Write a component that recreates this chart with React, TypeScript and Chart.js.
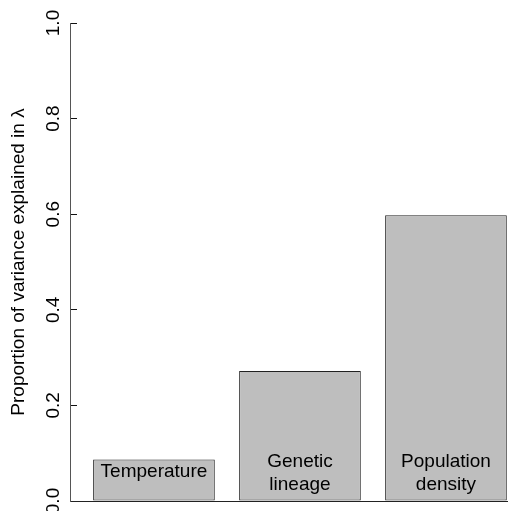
import React, { useEffect, useRef } from "react";
import { Chart, registerables } from "chart.js";

Chart.register(...registerables);

const categories = ["Temperature", "Genetic\nlineage", "Population\ndensity"];
const values = [0.087, 0.272, 0.598];
const labelY = [0.062, 0.058, 0.058];
const yTicks = [0, 0.2, 0.4, 0.6, 0.8, 1.0];
const yTitle = "Proportion of variance explained in λ";

const FONT = "'Liberation Sans', Arial, Helvetica, sans-serif";
const FS = 19;

const barTextPlugin = {
  id: "barText",
  afterDatasetsDraw(chart: any) {
    const { ctx, scales } = chart;
    const xs = scales.x;
    const ys = scales.y;
    ctx.save();
    ctx.fillStyle = "#000";
    ctx.font = `${FS}px ${FONT}`;
    ctx.textAlign = "center";
    ctx.textBaseline = "middle";
    const lh = 23;
    categories.forEach((c, i) => {
      const lines = c.split("\n");
      const cx = xs.getPixelForValue(i);
      const cy = ys.getPixelForValue(labelY[i]);
      lines.forEach((ln, j) => {
        const off = (j - (lines.length - 1) / 2) * lh;
        ctx.fillText(ln, cx, cy + off);
      });
    });
    ctx.restore();
  },
};

export default function App() {
  const ref = useRef<HTMLCanvasElement>(null);
  useEffect(() => {
    if (!ref.current) return;
    const chart = new Chart(ref.current, {
      type: "bar",
      data: {
        datasets: [
          {
            data: categories.map((_, i) => ({ x: i, y: values[i] })),
            backgroundColor: "#bebebe",
            borderColor: "#222",
            borderWidth: 1,
            borderSkipped: false,
            barPercentage: 1 / 1.2,
            categoryPercentage: 1,
          },
        ],
      },
      options: {
        animation: false,
        responsive: false,
        events: [],
        layout: { padding: { top: 23, bottom: 10, left: 0, right: 9 } },
        plugins: { legend: { display: false }, tooltip: { enabled: false } },
        scales: {
          x: {
            type: "linear",
            offset: false,
            min: -0.575,
            max: 2.418,
            afterBuildTicks: (s: any) => {
              s.ticks = categories.map((_, i) => ({ value: i }));
            },
            afterFit: (s: any) => {
              s.height = 0;
            },
            ticks: { display: false },
            grid: { display: true, drawOnChartArea: false, drawTicks: false, offset: false },
            border: { display: true, color: "#222", width: 1 },
          },
          y: {
            min: 0,
            max: 1,
            afterBuildTicks: (s: any) => {
              s.ticks = yTicks.map((v) => ({ value: v }));
            },
            afterFit: (s: any) => {
              s.width = 70;
              s.paddingTop = 0;
              s.paddingBottom = 0;
            },
            ticks: {
              minRotation: 90,
              maxRotation: 90,
              crossAlign: "center",
              padding: 10,
              color: "#000",
              font: { family: FONT, size: FS },
              callback: (v: any) => Number(v).toFixed(1),
            },
            grid: {
              drawOnChartArea: false,
              drawTicks: true,
              tickLength: -7,
              tickColor: "#111",
              lineWidth: 1,
            },
            border: { display: true, color: "#555", width: 1 },
            title: {
              display: true,
              text: yTitle,
              color: "#000",
              font: { family: FONT, size: FS },
              padding: { top: 7, bottom: 0 },
            },
          },
        },
      },
      plugins: [barTextPlugin],
    } as any);
    return () => chart.destroy();
  }, []);
  return (
    <div style={{ position: "fixed", left: 0, top: 0, width: 516, height: 511, overflow: "hidden", background: "#fff" }}>
      <canvas ref={ref} width={516} height={511} style={{ display: "block" }} />
    </div>
  );
}
